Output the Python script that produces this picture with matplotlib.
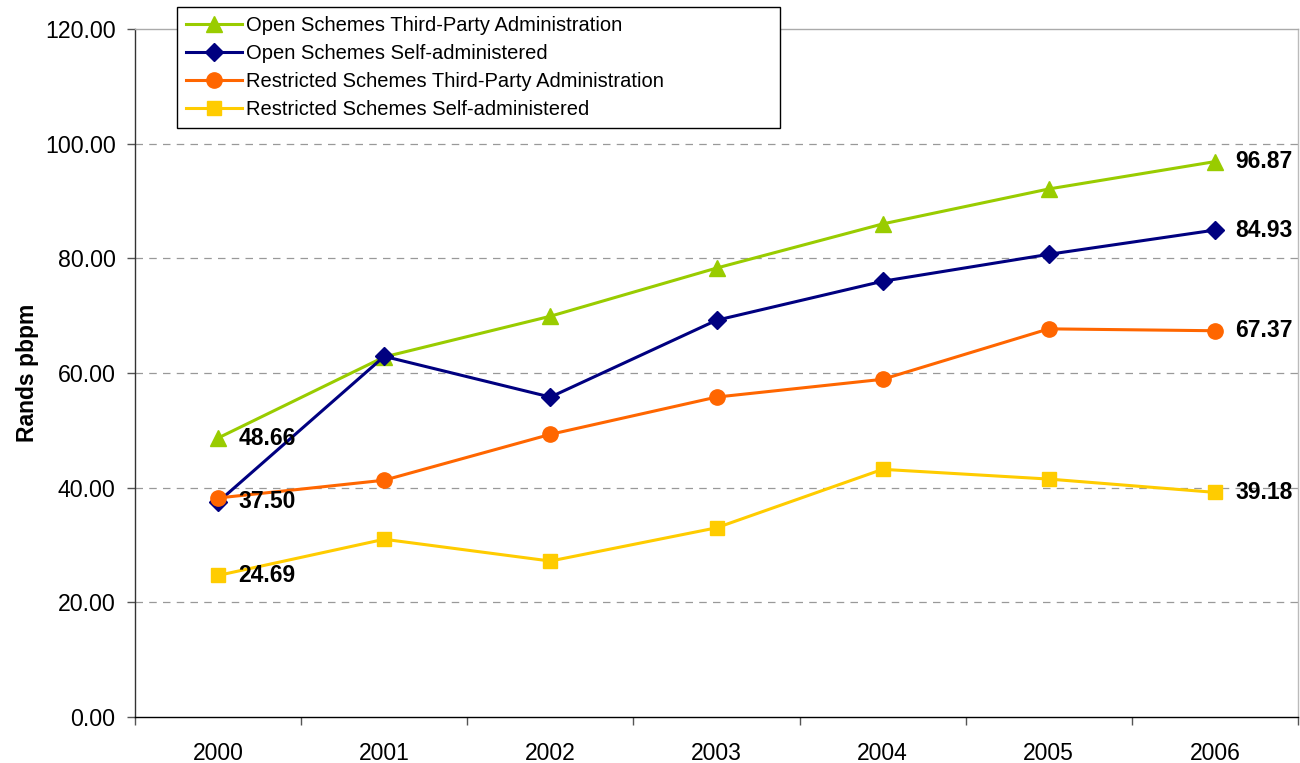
import matplotlib
matplotlib.use("Agg")
import matplotlib.pyplot as plt
from matplotlib.ticker import FixedLocator

plt.rcParams['font.family'] = ['Liberation Sans', 'DejaVu Sans']

years = ["2000", "2001", "2002", "2003", "2004", "2005", "2006"]
open_tpa = [48.66, 62.8, 69.9, 78.3, 86.0, 92.1, 96.87]
open_self = [37.50, 62.9, 55.8, 69.2, 76.0, 80.7, 84.93]
restr_tpa = [38.2, 41.3, 49.3, 55.8, 58.9, 67.7, 67.37]
restr_self = [24.69, 31.0, 27.2, 33.0, 43.2, 41.5, 39.18]

series = [
    ("Open Schemes Third-Party Administration", open_tpa, "#99CC00", "^", 11.5, True),
    ("Open Schemes Self-administered", open_self, "#000080", "D", 9.5, True),
    ("Restricted Schemes Third-Party Administration", restr_tpa, "#FF6600", "o", 11, False),
    ("Restricted Schemes Self-administered", restr_self, "#FFCC00", "s", 10.5, True),
]

fig = plt.figure(figsize=(13, 7.63), dpi=100)
ax = fig.add_axes([135/1300, 1-717/763, (1298-135)/1300, (717-29)/763])

x = list(range(len(years)))
handles = []
for name, vals, col, mk, ms, first_lbl in series:
    h, = ax.plot(x, vals, color=col, lw=2.2, marker=mk, markersize=ms,
                 markeredgecolor=col, label=name)
    handles.append(h)

# value labels at first and last points
for name, vals, col, mk, ms, first_lbl in series:
    if first_lbl:
        ax.annotate(f"{vals[0]:.2f}", (x[0], vals[0]), xytext=(14.5, 0),
                    textcoords="offset points", ha="left", va="center",
                    fontsize=16.5, fontweight="bold")
    ax.annotate(f"{vals[-1]:.2f}", (x[-1], vals[-1]), xytext=(14.5, 0),
                textcoords="offset points", ha="left", va="center",
                fontsize=16.5, fontweight="bold")

ax.set_xlim(-0.5, len(years) - 0.5)
ax.set_ylim(0, 120)
yt = [0, 20, 40, 60, 80, 100, 120]
ax.set_yticks(yt)
ax.set_yticklabels([f"{v:.2f}" for v in yt], fontsize=16.7)
ax.set_xticks(x)
ax.set_xticklabels(years, fontsize=16.5)
ax.tick_params(axis='x', which='major', length=0, pad=18)
ax.xaxis.set_minor_locator(FixedLocator([i - 0.5 for i in range(len(years) + 1)]))
ax.tick_params(axis='x', which='minor', length=6, width=1, color="#555555")
ax.tick_params(axis='y', length=6, width=1, color="#555555", pad=8)

for v in [20, 40, 60, 80, 100]:
    ax.axhline(v, color="#999999", lw=0.9, ls=(0, (6, 5)), zorder=0)

ax.spines['left'].set_color("#333333")
ax.spines['bottom'].set_color("#000000")
ax.spines['top'].set_color("#aaaaaa")
ax.spines['right'].set_color("#bbbbbb")
for s in ax.spines.values():
    s.set_linewidth(1.0)

ax.set_ylabel("Rands pbpm", fontsize=16.5, fontweight="bold", labelpad=4)

leg = fig.legend(handles=handles, loc="upper left",
                 bbox_to_anchor=(177/1300, 1-133/763, (780-177)/1300, (133-7)/763),
                 mode="expand", fontsize=14.5,
                 frameon=True, fancybox=False, framealpha=1,
                 edgecolor="black", borderpad=0.45, labelspacing=0.45,
                 handlelength=2.8, handletextpad=0.2, borderaxespad=0)
leg.get_frame().set_linewidth(1.0)

fig.savefig("out.png", dpi=100)
